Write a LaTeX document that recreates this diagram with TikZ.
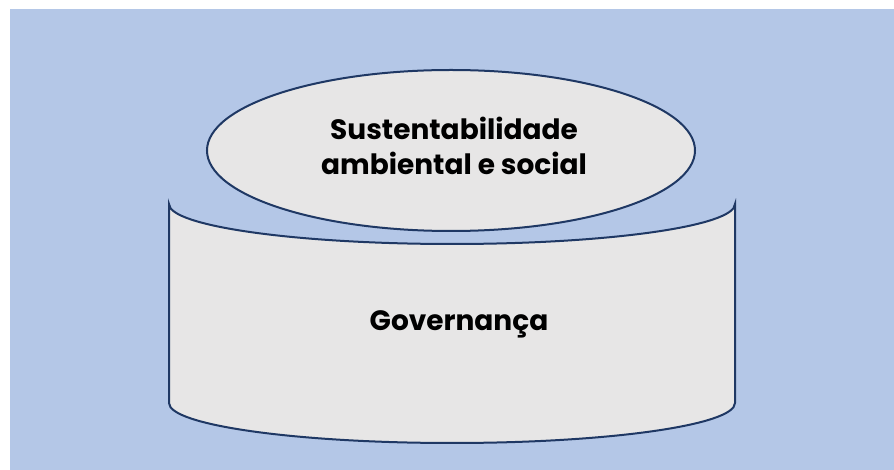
\documentclass[tikz,border=0pt]{standalone}
\usepackage{fontspec}
\setmainfont{Poppins}
\usepackage{tikz}

\definecolor{fundo}{RGB}{180,199,231}
\definecolor{cinza}{RGB}{231,230,230}
\definecolor{contorno}{RGB}{31,56,100}

\begin{document}
\begin{tikzpicture}[x=0.75pt,y=0.75pt,yscale=-1,xscale=1]
\useasboundingbox (0,0) rectangle (894,470);

%Shape: Rectangle [id:fundo]
\fill [fundo] (10,9) -- (894,9) -- (894,470) -- (10,470) -- cycle ;
%Shape: Can [id:governanca]
\draw [draw=contorno, fill=cinza, line width=1.5pt] (169,204) arc (180:0:283 and 40) -- (735,403) arc (0:180:283 and 40) -- cycle ;
%Shape: Ellipse [id:sustentabilidade]
\draw [draw=contorno, fill=cinza, line width=1.5pt] (451,150.5) ellipse (244 and 80.5) ;

% Text Node
\node (sust) at (454,146) [inner sep=0.75pt, align=center, font=\fontsize{21}{26.25}\selectfont\bfseries] {Sustentabilidade\\ambiental e social};
% Text Node
\node (gov) at (459,331) [anchor=base, inner sep=0.75pt, font=\fontsize{21}{26.25}\selectfont\bfseries] {Governança};

\end{tikzpicture}
\end{document}
